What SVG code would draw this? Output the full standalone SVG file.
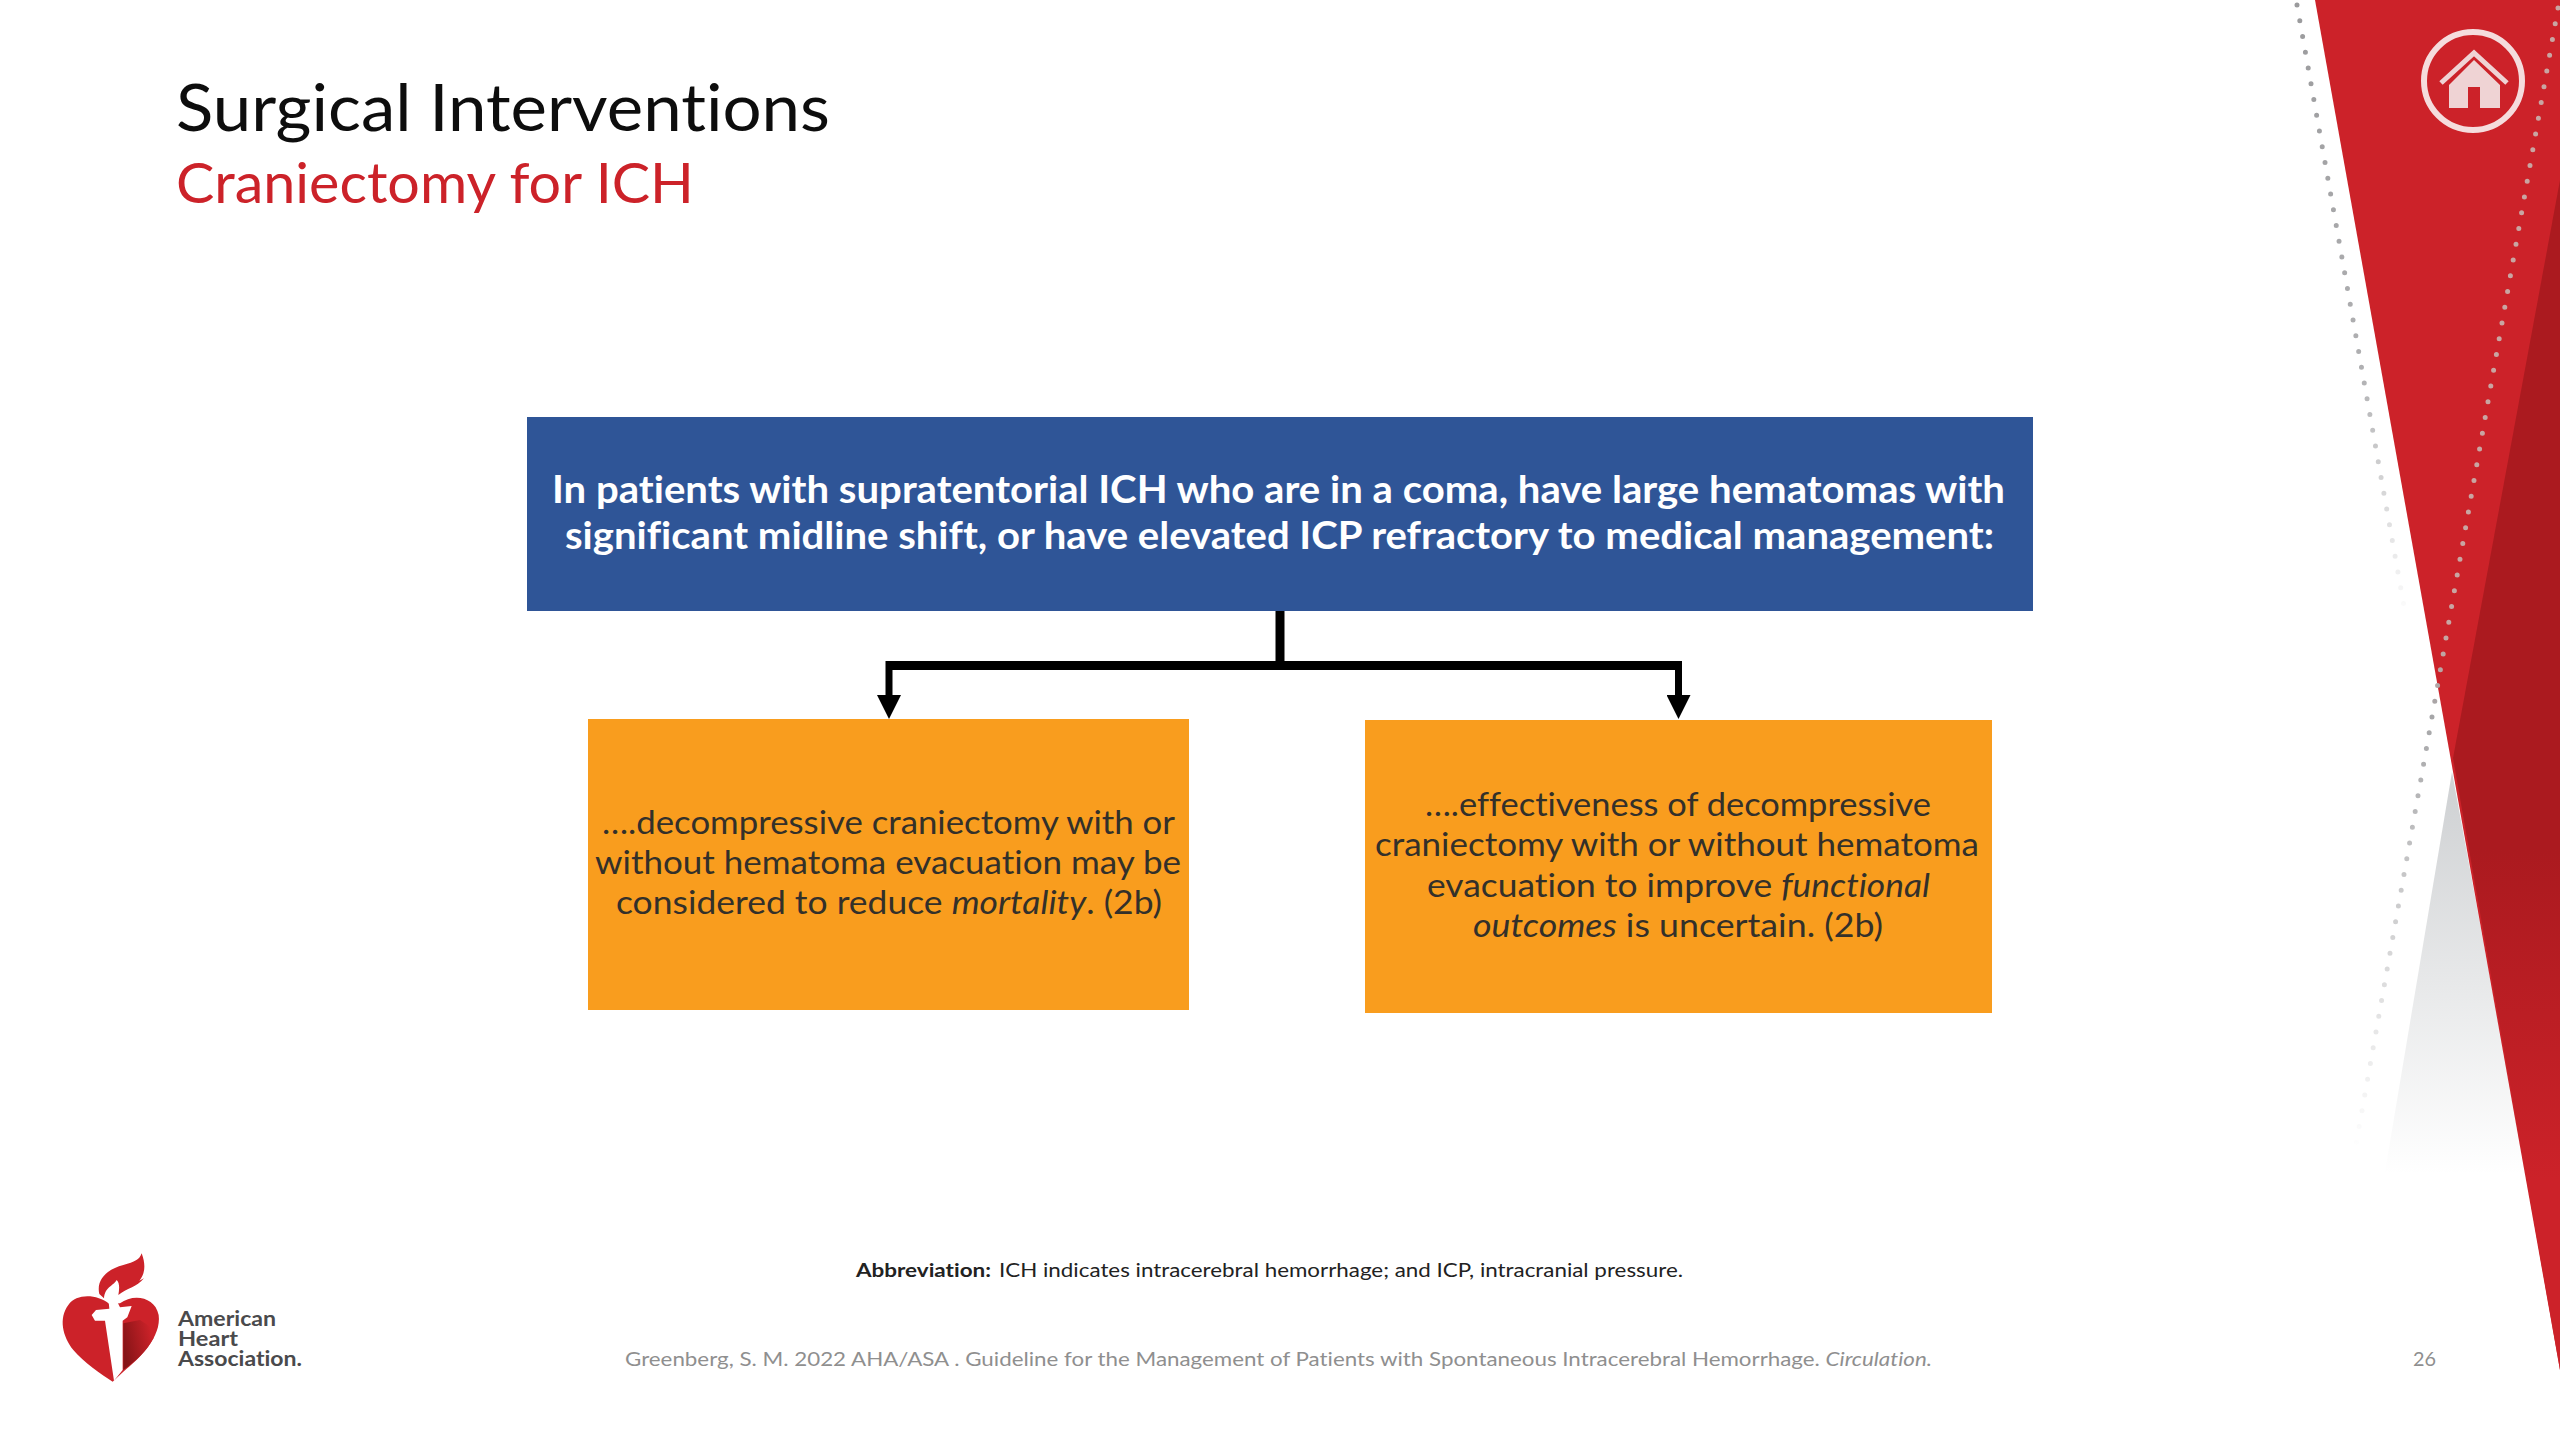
<svg xmlns="http://www.w3.org/2000/svg" width="2560" height="1440" viewBox="0 0 2560 1440">
<style>
text{font-family:Lato,"Open Sans","Liberation Sans",sans-serif;font-variant-ligatures:none}
.title{font-size:65px;fill:#0d0d0d}
.sub{font-size:57px;fill:#cc2229}
.bl{font-size:38px;font-weight:700;fill:#fff}
.or{font-size:32px;fill:#33302a}
.ab{font-size:19.5px;fill:#222}
.ft{font-size:19.5px;fill:#8f8f8f}
.lg{font-size:21px;font-weight:700;fill:#4a4a4c}
.ln{fill:none;stroke:#000}
</style>
<defs>
<marker id="ah" markerUnits="userSpaceOnUse" markerWidth="24" markerHeight="24" viewBox="0 0 23 23" refX="0" refY="11.5" orient="auto"><polygon points="0,0 23,11.5 0,23" fill="#000"/></marker>
<linearGradient id="dk" gradientUnits="userSpaceOnUse" x1="0" y1="850" x2="0" y2="1180"><stop offset="0" stop-color="#ab1a1f"/><stop offset="1" stop-color="#cc2229"/></linearGradient>
<linearGradient id="gy" gradientUnits="userSpaceOnUse" x1="0" y1="800" x2="0" y2="1175"><stop offset="0" stop-color="#d1d3d5"/><stop offset="1" stop-color="#fff"/></linearGradient>
<linearGradient id="dl" gradientUnits="userSpaceOnUse" x1="0" y1="0" x2="0" y2="620"><stop offset="0" stop-color="#9a9a9c"/><stop offset="0.6" stop-color="#b0b0b2"/><stop offset="1" stop-color="#fff"/></linearGradient>
<linearGradient id="dr" gradientUnits="userSpaceOnUse" x1="0" y1="0" x2="0" y2="1150"><stop offset="0" stop-color="#c9a5a2"/><stop offset="0.55" stop-color="#c9a5a2"/><stop offset="0.62" stop-color="#a5a5a7"/><stop offset="1" stop-color="#fff"/></linearGradient>
<linearGradient id="hs" gradientUnits="userSpaceOnUse" x1="250" y1="350" x2="340" y2="330"><stop offset="0" stop-color="#861417"/><stop offset="1" stop-color="#cc2229"/></linearGradient>
</defs>
<rect width="2560" height="1440" fill="#fff"/>
<g id="decor">
<polygon points="2452,772 2385,1172 2526,1172" fill="url(#gy)"/>
<polygon points="2315,0 2560,0 2560,1370" fill="#cc2229"/>
<polygon points="2560,180 2453,758 2560,1370" fill="url(#dk)"/>
<path d="M2297,5 L2405,612" fill="none" stroke="url(#dl)" stroke-width="5" stroke-linecap="round" stroke-dasharray="0 16"/>
<path d="M2558,8 L2355,1150" fill="none" stroke="url(#dr)" stroke-width="5" stroke-linecap="round" stroke-dasharray="0 16"/>
</g>
<g id="home-icon">
<circle cx="2473" cy="81" r="49" fill="none" stroke="#f5dcdd" stroke-width="6"/>
<path d="M2441,83 L2474,53 L2507,83" fill="none" stroke="#efd3d4" stroke-width="5"/>
<path d="M2474,60 L2500,85 V108 H2480 V87 H2468 V108 H2449 V85 Z" fill="#efd3d4"/>
</g>
<g id="title">
<text class="title" x="176" y="131" textLength="654" lengthAdjust="spacingAndGlyphs">Surgical Interventions</text>
<text class="sub" x="176" y="203" textLength="518" lengthAdjust="spacingAndGlyphs">Craniectomy for ICH</text>
</g>
<g id="connectors">
<path class="ln" stroke-width="9" d="M1280,611 V670"/>
<path class="ln" stroke-width="9" d="M886,665.5 H1682"/>
<path class="ln" stroke-width="7" d="M889,661 V695" marker-end="url(#ah)"/>
<path class="ln" stroke-width="7" d="M1678.5,661 V695" marker-end="url(#ah)"/>
</g>
<g id="node-top">
<rect x="527" y="417" width="1506" height="194" fill="#2f5597"/>
<text class="bl" x="552" y="503" textLength="1453" lengthAdjust="spacingAndGlyphs">In patients with supratentorial ICH who are in a coma, have large hematomas with</text>
<text class="bl" x="565" y="549" textLength="1429" lengthAdjust="spacingAndGlyphs">significant midline shift, or have elevated ICP refractory to medical management:</text>
</g>
<g id="node-left">
<rect x="588" y="719" width="601" height="291" fill="#f99d1e"/>
<text class="or" x="602" y="834" textLength="573" lengthAdjust="spacingAndGlyphs">….decompressive craniectomy with or</text>
<text class="or" x="595" y="874" textLength="586" lengthAdjust="spacingAndGlyphs">without hematoma evacuation may be</text>
<text class="or" x="616" y="914" textLength="546" lengthAdjust="spacingAndGlyphs">considered to reduce <tspan font-style="italic">mortality</tspan>. (2b)</text>
</g>
<g id="node-right">
<rect x="1365" y="720" width="627" height="293" fill="#f99d1e"/>
<text class="or" x="1425" y="816" textLength="506" lengthAdjust="spacingAndGlyphs">….effectiveness of decompressive</text>
<text class="or" x="1375" y="856" textLength="604" lengthAdjust="spacingAndGlyphs">craniectomy with or without hematoma</text>
<text class="or" x="1427" y="897" textLength="503" lengthAdjust="spacingAndGlyphs">evacuation to improve <tspan font-style="italic">functional</tspan></text>
<text class="or" x="1473" y="937" textLength="410" lengthAdjust="spacingAndGlyphs"><tspan font-style="italic">outcomes</tspan> is uncertain. (2b)</text>
</g>
<g id="footer">
<text class="ab" x="856" y="1277" font-weight="700" textLength="135" lengthAdjust="spacingAndGlyphs">Abbreviation:</text>
<text class="ab" x="999" y="1277" textLength="684" lengthAdjust="spacingAndGlyphs">ICH indicates intracerebral hemorrhage; and ICP, intracranial pressure.</text>
<text class="ft" x="625" y="1366" textLength="1307" lengthAdjust="spacingAndGlyphs">Greenberg, S. M. 2022 AHA/ASA . Guideline for the Management of Patients with Spontaneous Intracerebral Hemorrhage. <tspan font-style="italic">Circulation.</tspan></text>
<text class="ft" x="2413" y="1366" textLength="23" lengthAdjust="spacingAndGlyphs">26</text>
</g>
<g id="logo">
<g transform="translate(40,1230) scale(0.3333)">
<path d="M208,222 C170,192 110,190 85,225 C55,265 68,320 100,360 C130,395 185,435 218,455 L250,425 C300,385 365,320 356,255 C345,200 280,190 240,220 Z" fill="#cc2229"/>
<path d="M250,280 L300,270 C325,285 345,300 340,325 C320,365 285,395 250,420 Z" fill="url(#hs)"/>
<path d="M178,192 C168,150 200,118 250,105 C285,95 298,90 305,70 C320,110 312,135 298,152 L312,145 C290,172 260,175 235,195 C238,178 240,160 230,150 C218,170 195,170 192,205 Z" fill="#cc2229"/>
<path d="M205,205 C205,185 215,170 228,158 C232,175 232,190 228,208 L240,232 L275,228 L262,262 L248,272 L248,420 L222,452 L195,272 L165,272 L155,255 L168,240 L208,236 Z" fill="#fff"/>
</g>
<text class="lg" x="178" y="1326" textLength="98" lengthAdjust="spacingAndGlyphs">American</text>
<text class="lg" x="178" y="1346" textLength="60" lengthAdjust="spacingAndGlyphs">Heart</text>
<text class="lg" x="178" y="1366" textLength="124" lengthAdjust="spacingAndGlyphs">Association.</text>
</g>
</svg>
